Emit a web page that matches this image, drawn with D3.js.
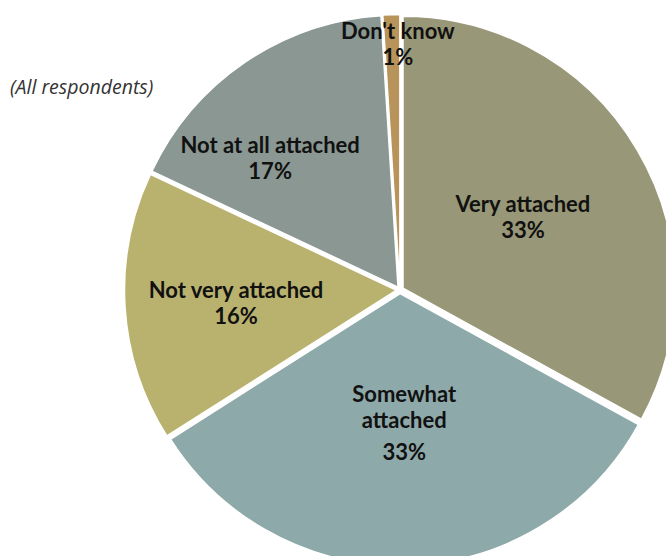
<!DOCTYPE html>
<html lang="en">
<head>
    <meta charset="UTF-8">
    <title>Attachment pie</title>
    <style>
        body { margin: 0; background: #fff; }
        svg { display: block; }
        .lbl { font-family: Lato, "Open Sans", sans-serif; font-weight: bold; font-size: 22px; fill: #111; }
        .note { font-family: "Open Sans", sans-serif; font-style: italic; font-size: 19.5px; fill: #333; }
    </style>
</head>
<body>
<div id="chart"></div>
<script src="https://cdn.jsdelivr.net/npm/d3@7"></script>
<script>
    // data
    var categories = ["Very attached", "Somewhat attached", "Not very attached", "Not at all attached", "Don't know"];
    var values = [33, 33, 16, 17, 1];
    var labelLines = [["Very attached"], ["Somewhat", "attached"], ["Not very attached"], ["Not at all attached"], ["Don't know"]];

    // styling / layout
    var colors = ["#989777", "#8ea9a9", "#b9b26f", "#8a9792", "#b8935a"];
    var labelR = [0.525, 0.49, 0.605, 0.68, 0.905];   // fraction of radius
    var labelShift = [0, 0, -1.1, -10.4, 1.3];        // degrees
    var pctGap = [0, 6, 0, 0, 0];

    var width = 666, height = 556;
    var cx = 400, cy = 290, radius = 272, explode = 3.5, lineH = 26;

    var svg = d3.select("#chart").append("svg")
        .attr("width", width)
        .attr("height", height);

    var pie = d3.pie().sort(null).value(function(d) { return d; });
    var arcs = pie(values);
    var arc = d3.arc().innerRadius(0).outerRadius(radius);

    var g = svg.append("g").attr("transform", "translate(" + cx + "," + cy + ")");

    g.selectAll("path")
        .data(arcs)
        .enter().append("path")
        .attr("d", arc)
        .attr("fill", function(d, i) { return colors[i]; })
        .attr("stroke", "#fff")
        .attr("stroke-width", 1.5)
        .attr("transform", function(d) {
            var a = (d.startAngle + d.endAngle) / 2;
            return "translate(" + (explode * Math.sin(a)) + "," + (-explode * Math.cos(a)) + ")";
        });

    g.selectAll("text.lbl")
        .data(arcs)
        .enter().append("text")
        .attr("class", "lbl")
        .attr("text-anchor", "middle")
        .each(function(d, i) {
            var a = (d.startAngle + d.endAngle) / 2 + labelShift[i] * Math.PI / 180;
            var r = labelR[i] * radius;
            var x = r * Math.sin(a), y = -r * Math.cos(a);
            var lines = labelLines[i].concat([d.data + "%"]);
            var n = lines.length;
            var top = y - ((n - 1) * lineH + pctGap[i]) / 2 + 8;
            var t = d3.select(this);
            lines.forEach(function(s, k) {
                var yy = top + k * lineH + (k === n - 1 ? pctGap[i] : 0);
                t.append("tspan").attr("x", x).attr("y", yy).text(s);
            });
        });

    svg.append("text")
        .attr("class", "note")
        .attr("x", 10)
        .attr("y", 94)
        .text("(All respondents)");
</script>
</body>
</html>
